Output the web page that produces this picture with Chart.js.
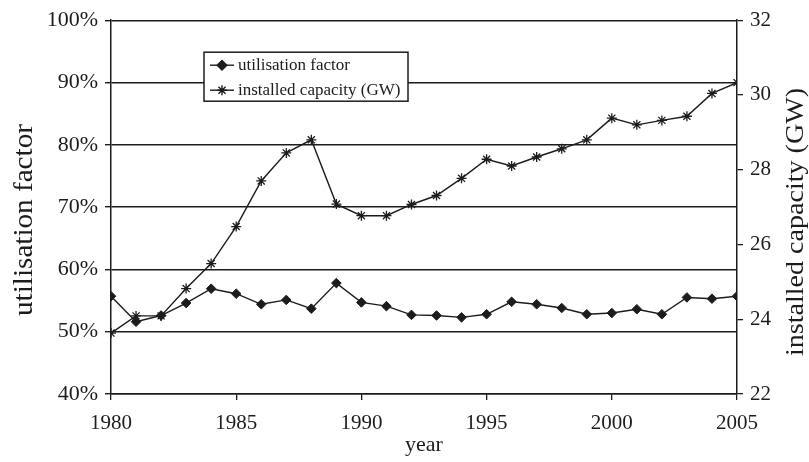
<!DOCTYPE html>
<html lang="en">
<head>
<meta charset="UTF-8">
<title>Utilisation factor and installed capacity</title>
<script src="https://cdn.jsdelivr.net/npm/chart.js"></script>
<style>
  html, body { margin: 0; padding: 0; background: #fff; }
  #wrap { width: 809px; height: 462px; position: relative; }
</style>
</head>
<body>
<div id="wrap"><canvas id="chart" width="809" height="462"></canvas></div>
<script>
// values
const years = [1980, 1981, 1982, 1983, 1984, 1985, 1986, 1987, 1988, 1989, 1990, 1991, 1992,
               1993, 1994, 1995, 1996, 1997, 1998, 1999, 2000, 2001, 2002, 2003, 2004, 2005];
const utilisation = [55.7, 51.6, 52.6, 54.6, 56.9, 56.1, 54.4, 55.1, 53.7, 57.8, 54.7, 54.1, 52.7,
                     52.6, 52.3, 52.8, 54.8, 54.4, 53.8, 52.8, 53.0, 53.6, 52.8, 55.5, 55.3, 55.7];
const capacity = [23.63, 24.09, 24.09, 24.82, 25.49, 26.48, 27.70, 28.45, 28.80, 27.08, 26.77, 26.77, 27.07,
                  27.31, 27.77, 28.28, 28.10, 28.34, 28.56, 28.80, 29.38, 29.20, 29.32, 29.43, 30.04, 30.33];
const yearTicks = [1980, 1985, 1990, 1995, 2000, 2005];
const leftTicks = [40, 50, 60, 70, 80, 90, 100];
const rightTicks = [22, 24, 26, 28, 30, 32];

const ink = '#1c1c1c';
const serif = '"Liberation Serif", "DejaVu Serif", serif';

function sideTitle(ctx, text, x, y, size) {
  ctx.save();
  ctx.translate(x, y);
  ctx.scale(1, 1.08);
  ctx.rotate(-Math.PI / 2);
  ctx.font = size + 'px ' + serif;
  ctx.fillStyle = ink;
  ctx.textAlign = 'center';
  ctx.textBaseline = 'middle';
  ctx.fillText(text, 0, 0);
  ctx.restore();
}

// legend box inside the plot, plus the two vertical axis titles
const extras = {
  id: 'extras',
  afterDraw(chart) {
    const ctx = chart.ctx;
    const a = chart.chartArea;
    const x = a.left + 93, y = a.top + 32, w = 204, h = 49;
    ctx.save();
    ctx.fillStyle = '#fff';
    ctx.fillRect(x, y, w, h);
    ctx.strokeStyle = ink;
    ctx.lineWidth = 1.5;
    ctx.strokeRect(x, y, w, h);
    chart.data.datasets.forEach((ds, i) => {
      const cy = y + 13 + i * 25;
      ctx.strokeStyle = ink;
      ctx.lineWidth = 1.4;
      ctx.beginPath();
      ctx.moveTo(x + 6, cy);
      ctx.lineTo(x + 30, cy);
      ctx.stroke();
      ctx.fillStyle = ink;
      Chart.helpers.drawPoint(ctx, {
        pointStyle: ds.pointStyle, radius: ds.pointRadius, borderWidth: ds.pointBorderWidth
      }, x + 18, cy);
      ctx.fillStyle = ink;
      ctx.font = '17px ' + serif;
      ctx.textBaseline = 'middle';
      ctx.textAlign = 'left';
      ctx.fillText(ds.label, x + 34, cy);
    });
    ctx.restore();
    sideTitle(ctx, 'utilisation factor', 25, 220, 27);
    sideTitle(ctx, 'installed capacity (GW)', 796, 222, 26);
  }
};

new Chart(document.getElementById('chart'), {
  type: 'line',
  data: {
    datasets: [{
      label: 'utilisation factor',
      data: years.map((yr, i) => ({ x: yr, y: utilisation[i] })),
      yAxisID: 'yLeft',
      borderColor: ink,
      backgroundColor: ink,
      borderWidth: 1.4,
      pointStyle: 'rectRot',
      pointRadius: 4.8,
      pointBorderWidth: 1,
      tension: 0
    }, {
      label: 'installed capacity (GW)',
      data: years.map((yr, i) => ({ x: yr, y: capacity[i] })),
      yAxisID: 'yRight',
      borderColor: ink,
      backgroundColor: ink,
      borderWidth: 1.4,
      pointStyle: 'star',
      pointRadius: 5,
      pointBorderWidth: 1.3,
      tension: 0
    }]
  },
  options: {
    responsive: false,
    animation: false,
    layout: { padding: { top: 17, left: 0, right: 0, bottom: 0 } },
    plugins: { legend: { display: false }, tooltip: { enabled: false } },
    scales: {
      x: {
        type: 'linear',
        min: 1980, max: 2005,
        afterBuildTicks: s => { s.ticks = yearTicks.map(v => ({ value: v })); },
        afterFit: s => { s.height = 68; },
        ticks: { color: ink, font: { family: serif, size: 21 }, padding: 11, maxRotation: 0,
                 autoSkip: false, callback: v => String(v) },
        grid: { drawOnChartArea: false, color: ink, tickLength: 6, lineWidth: 1.3 },
        border: { color: ink, width: 1.5 },
        title: { display: true, text: 'year', color: ink, font: { family: serif, size: 22 },
                 padding: { top: 0, bottom: 4 } }
      },
      yLeft: {
        position: 'left',
        min: 40, max: 100,
        afterBuildTicks: s => { s.ticks = leftTicks.map(v => ({ value: v })); },
        afterFit: s => { s.width = 111; },
        ticks: { color: ink, font: { family: serif, size: 22 }, padding: 7, callback: v => v + '%' },
        grid: { color: ink, tickLength: 6, lineWidth: 1.4 },
        border: { color: ink, width: 1.5 }
      },
      yRight: {
        position: 'right',
        min: 22, max: 32,
        afterBuildTicks: s => { s.ticks = rightTicks.map(v => ({ value: v })); },
        afterFit: s => { s.width = 72; },
        ticks: { color: ink, font: { family: serif, size: 21 }, padding: 7 },
        grid: { drawOnChartArea: false, color: ink, tickLength: 6, lineWidth: 1.3 },
        border: { color: ink, width: 1.5 }
      }
    }
  },
  plugins: [extras]
});
</script>
</body>
</html>
